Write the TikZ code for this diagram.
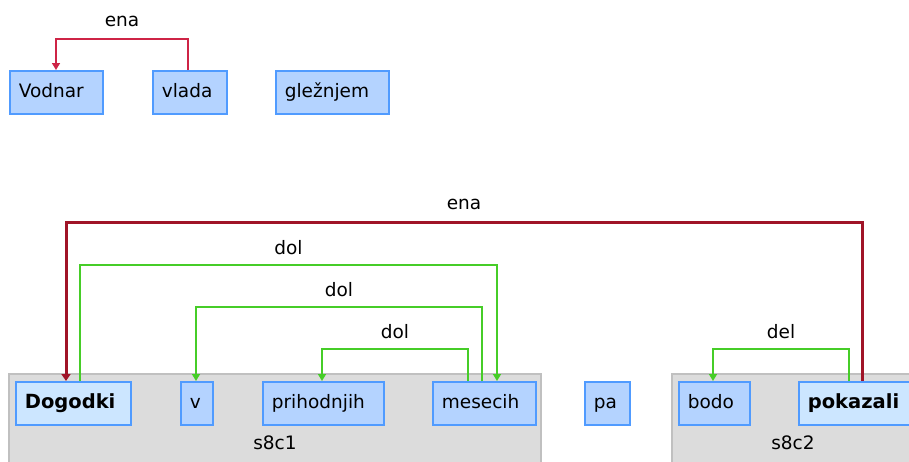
\documentclass[tikz,border=0pt]{standalone}
\usepackage{fontspec}
\setmainfont{DejaVu Sans}
\usetikzlibrary{arrows.meta,calc}
\definecolor{boxfill}{RGB}{180,211,255}
\definecolor{boxlight}{RGB}{204,230,255}
\definecolor{boxline}{RGB}{80,155,255}
\definecolor{grpfill}{RGB}{220,220,220}
\definecolor{grpline}{RGB}{192,192,192}
\definecolor{redthin}{RGB}{206,36,70}
\definecolor{reddark}{RGB}{160,20,40}
\definecolor{greenl}{RGB}{70,205,40}
\tikzset{
  wbox/.style={draw=boxline, fill=boxfill, line width=1.7pt, anchor=north west,
    inner xsep=9pt, inner ysep=0pt, minimum height=43pt, align=left,
    text height=15pt, text depth=4pt},
  headbox/.style={wbox, fill=boxlight, font=\fontsize{19.5pt}{22pt}\selectfont\bfseries},
  grp/.style={draw=grpline, fill=grpfill, line width=1.5pt},
  grplabel/.style={inner sep=0pt},
  elabel/.style={pos=0.75, yshift=17.5pt, inner sep=0pt},
  linkena/.style={draw=redthin, line width=1.5pt, -{Triangle[width=8pt,length=7pt]}},
  linkhead/.style={draw=reddark, line width=3pt, -{Triangle[width=9pt,length=7pt]}},
  linkdep/.style={draw=greenl, line width=1.5pt, -{Triangle[width=8pt,length=7pt]}}
}
\begin{document}
\begin{tikzpicture}[x=1pt, y=-1pt, font=\fontsize{18.5pt}{22pt}\selectfont]
\clip (0,0) rectangle (909,461);
\fill[white] (0,0) rectangle (909,461);

% groups
\draw[grp] (9,374) rectangle (541,475);
\node[grplabel] (g1) at (275,443) {s8c1};
\draw[grp] (672,374) rectangle (914,475);
\node[grplabel] (g2) at (793,443) {s8c2};

% top row
\node[wbox, text width=75pt] (Vodnar) at (9,70) {Vodnar};
\node[wbox, text width=56pt] (vlada) at (152,70) {vlada};
\node[wbox, text width=95pt] (glez) at (275,70) {gležnjem};

% bottom row
\node[headbox, text width=97pt] (Dogodki) at (15,381) {Dogodki};
\node[wbox, text width=14pt] (v) at (180,381) {v};
\node[wbox, text width=103pt] (prih) at (262,381) {prihodnjih};
\node[wbox, text width=85pt] (mes) at (432,381) {mesecih};
\node[wbox, text width=27pt] (pa) at (584,381) {pa};
\node[wbox, text width=53pt] (bodo) at (678,381) {bodo};
\node[headbox, text width=102pt] (pok) at (798,381) {pokazali};

% top edge
\draw[linkena] ($(vlada.north west)+(36,0)$) |- ($(Vodnar.north west)+(47,-31)$)
  node[elabel] {ena} -- ($(Vodnar.north west)+(47,0)$);

% bottom edges
\draw[linkhead] ($(pok.north west)+(64,0)$) |- ($(Dogodki.north west)+(51,-159)$)
  node[elabel] {ena} -- ($(Dogodki.north west)+(51,0)$);
\draw[linkdep] ($(Dogodki.north west)+(65,0)$) |- ($(mes.north west)+(65,-116)$)
  node[elabel] {dol} -- ($(mes.north west)+(65,0)$);
\draw[linkdep] ($(mes.north west)+(50,0)$) |- ($(v.north west)+(16,-74)$)
  node[elabel] {dol} -- ($(v.north west)+(16,0)$);
\draw[linkdep] ($(mes.north west)+(36,0)$) |- ($(prih.north west)+(60,-32)$)
  node[elabel] {dol} -- ($(prih.north west)+(60,0)$);
\draw[linkdep] ($(pok.north west)+(51,0)$) |- ($(bodo.north west)+(35,-32)$)
  node[elabel] {del} -- ($(bodo.north west)+(35,0)$);
\end{tikzpicture}
\end{document}
